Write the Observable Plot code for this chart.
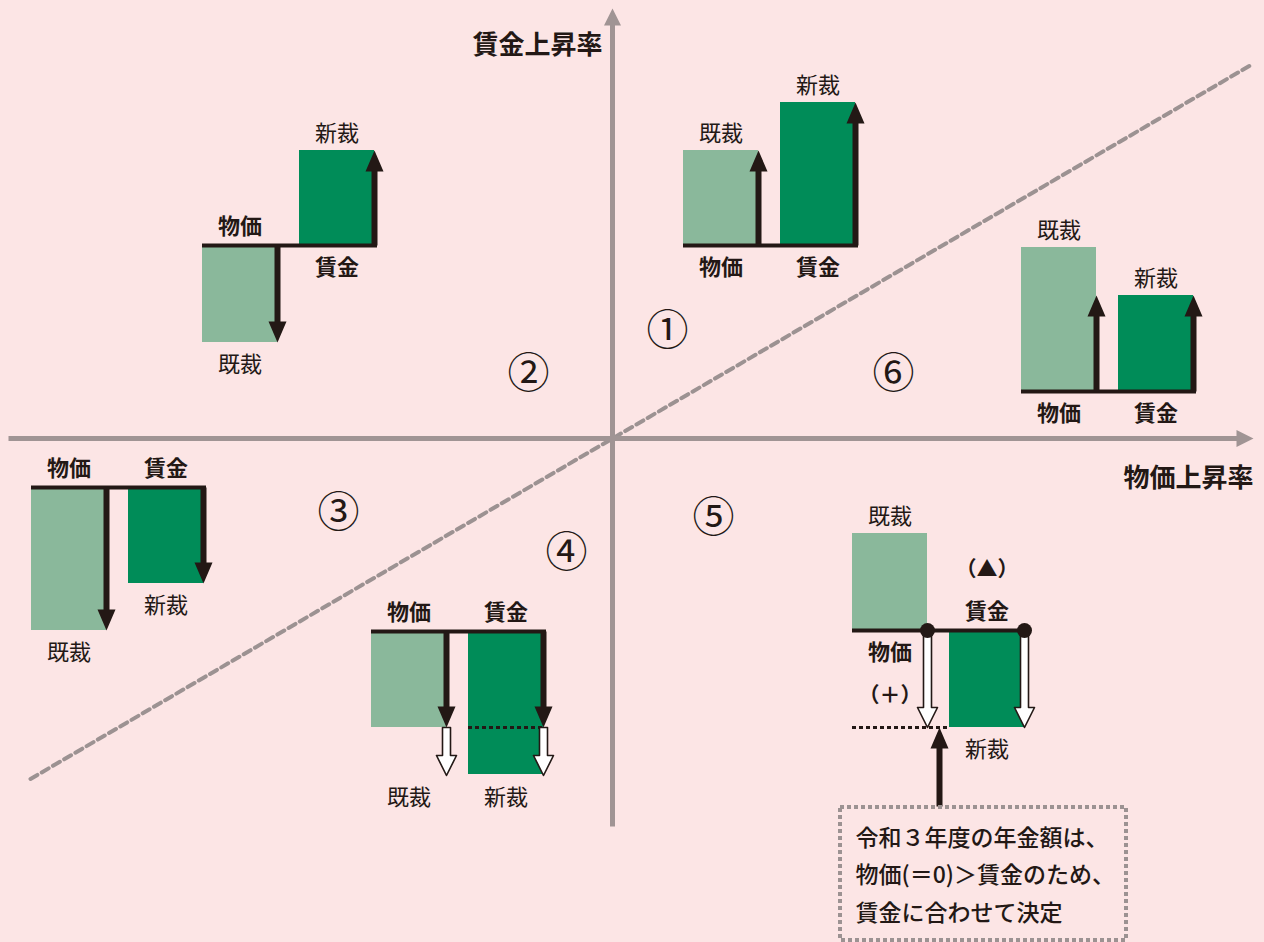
<!DOCTYPE html>
<html><head><meta charset="utf-8">
<script src="https://cdn.jsdelivr.net/npm/d3@7"></script>
<script src="https://cdn.jsdelivr.net/npm/@observablehq/plot@0.6"></script>
<style>
html,body{margin:0;padding:0;background:#fce5e5;}
#chart svg{display:block;}
</style></head><body><div id="chart"></div>
<script>
// ---- data (conceptual rates; baseline = 0 for each panel) ----
const panelIds = ["①","②","③","④","⑤","⑥"];
const priceBar  = [95, -97, -143, -96, 97, 144];   // 既裁 bar (物価)
const wageBar   = [143, 95, -96, -143, -97, 96];   // 新裁 bar (賃金)
const priceArrow = [95, -97, -143, -96, 0, 96];    // solid revision arrow on 既裁
const wageArrow  = [143, 95, -96, -96, 0, 96];     // solid revision arrow on 新裁
const hollowFrom = [null, null, null, -96, 0, null];
const hollowTo   = [null, null, null, -144, -97, null];
const rateNames = ["物価", "賃金"];
const revisionNames = ["既裁", "新裁"];
const axisTitles = ["物価上昇率", "賃金上昇率"];
const signNotes = ["（＋）", "（▲）"];
const noteLines = ["令和３年度の年金額は、", "物価(＝0)＞賃金のため、", "賃金に合わせて決定"];

// ---- layout (diagram placement) ----
const panelLeft = [71, -410, -581, -241, 240, 409];
const panelBase = [193, 193, -49, -193, -192, 47];
const idX = [55, -84, -274, -46, 101, 281];
const idY = [107, 64, -75, -115, -80, 64];
const guideLevel = [null, null, null, -96, -97, null];
const guideSide = [null, null, null, "wage", "price", null];
const diagonalX = [-582, 640];
const diagonalSlope = 0.585;

const C = {bg:"#fce5e5", light:"#8ab89b", dark:"#008c58", ink:"#231815", axis:"#a09494", dash:"#9c9292"};
const FONT = "'Noto Sans CJK JP', 'Noto Sans', sans-serif";
const BW = 75, GAP = 97, AX2 = 172;

function arrowShape(shaftW, headW, headL) {
  return {draw(ctx, l) {
    const s = shaftW / 2, h = headW / 2, b = -l + headL;
    ctx.moveTo(-s, 0); ctx.lineTo(-s, b); ctx.lineTo(-h, b); ctx.lineTo(0, -l);
    ctx.lineTo(h, b); ctx.lineTo(s, b); ctx.lineTo(s, 0); ctx.closePath();
  }};
}

const bars = [], baselines = [], solid = [], hollow = [], dots = [], guides = [], labels = [], notes = [];
panelIds.forEach((id, i) => {
  const L = panelLeft[i], B = panelBase[i];
  bars.push({x1: L, x2: L + BW, y1: B, y2: B + priceBar[i], fill: C.light});
  bars.push({x1: L + GAP, x2: L + GAP + BW, y1: B, y2: B + wageBar[i], fill: C.dark});
  baselines.push({y: B, x1: L, x2: L + AX2 + 3});
  [[L + BW, priceArrow[i]], [L + AX2, wageArrow[i]]].forEach(([x, v]) => {
    if (v) solid.push({x, y: B, len: Math.abs(v), rot: v > 0 ? 0 : 180});
  });
  if (hollowFrom[i] != null) {
    const v = hollowTo[i] - hollowFrom[i];
    [L + BW, L + AX2].forEach(x => hollow.push({x, y: B + hollowFrom[i], len: Math.abs(v), rot: v > 0 ? 0 : 180}));
    if (hollowFrom[i] === 0) [L + BW, L + AX2].forEach(x => dots.push({x, y: B}));
  }
  if (guideLevel[i] != null) {
    const [a, b] = guideSide[i] === "wage" ? [L + GAP, L + GAP + BW] : [L, L + GAP];
    guides.push({y: B + guideLevel[i], x1: a, x2: b});
  }
  const vals = [priceBar[i], wageBar[i]];
  const cx = [L + BW / 2, L + GAP + BW / 2];
  vals.forEach((v, k) => {
    const ry = v > 0 ? B - 22 : B + 19;
    labels.push({text: rateNames[k], x: cx[k], y: ry, bold: true});
    let ext = v;
    if (hollowTo[i] != null && Math.sign(hollowTo[i]) === Math.sign(v) && Math.abs(hollowTo[i]) > Math.abs(v)) ext = hollowTo[i];
    labels.push({text: revisionNames[k], x: cx[k], y: ext > 0 ? B + ext + 17 : B + ext - 22, bold: false});
    if (hollowFrom[i] === 0) notes.push({text: signNotes[k], x: cx[k], y: v > 0 ? ry - 43 : ry + 42});
  });
});

const panelsIdx = panelIds.map((d, i) => i);
const diag = diagonalX.map(x => ({x, y: x * diagonalSlope}));

const plot = Plot.plot({
  width: 1264, height: 942, margin: 0,
  x: {domain: [-612, 652], axis: null},
  y: {domain: [-504, 438], axis: null},
  length: {domain: [0, 2000], range: [0, 2000]},
  style: {background: C.bg, fontFamily: FONT},
  marks: [
    Plot.line(diag, {x: "x", y: "y", stroke: C.dash, strokeWidth: 4, strokeDasharray: "8,5"}),
    Plot.vector([{x: 0, y: -388, len: 818, rot: 0}, {x: -604, y: 0, len: 1245, rot: 90}],
      {x: "x", y: "y", length: "len", rotate: "rot", anchor: "start", shape: arrowShape(5, 17, 17), fill: C.axis, stroke: "none"}),
    Plot.rect(bars, {x1: "x1", x2: "x2", y1: "y1", y2: "y2", fill: "fill"}),
    Plot.ruleY(guides, {y: "y", x1: "x1", x2: "x2", stroke: C.ink, strokeWidth: 3, strokeDasharray: "4,3"}),
    Plot.ruleY(baselines, {y: "y", x1: "x1", x2: "x2", stroke: C.ink, strokeWidth: 4}),
    Plot.vector(solid, {x: "x", y: "y", length: "len", rotate: "rot", anchor: "start", shape: arrowShape(6, 18, 21), fill: C.ink, stroke: "none"}),
    Plot.vector(hollow, {x: "x", y: "y", length: "len", rotate: "rot", anchor: "start", shape: arrowShape(8, 20, 20), fill: "#ffffff", stroke: C.ink, strokeWidth: 1.6}),
    Plot.dot(dots, {x: "x", y: "y", r: 7.5, fill: C.ink}),
    Plot.vector([{x: 327, y: -368, len: 79, rot: 0}], {x: "x", y: "y", length: "len", rotate: "rot", anchor: "start", shape: arrowShape(6, 18, 21), fill: C.ink, stroke: "none"}),
    Plot.rect([{x1: 228, x2: 514, y1: -369, y2: -502}], {x1: "x1", x2: "x2", y1: "y1", y2: "y2", fill: "none", stroke: C.dash, strokeWidth: 4, strokeDasharray: "4,3"}),
    Plot.text(labels.filter(d => d.bold), {x: "x", y: "y", text: "text", fontSize: 22, fontWeight: "bold", fill: C.ink}),
    Plot.text(labels.filter(d => !d.bold), {x: "x", y: "y", text: "text", fontSize: 22, fill: C.ink}),
    Plot.text(notes, {x: "x", y: "y", text: "text", fontSize: 21, fontWeight: "bold", fill: C.ink}),
    Plot.text(panelsIdx, {x: i => idX[i], y: i => idY[i], text: i => panelIds[i], fontSize: 42, fill: C.ink}),
    Plot.text([0, 1], {x: i => [576, -75][i], y: i => [-40, 393][i], text: i => axisTitles[i], fontSize: 26, fontWeight: "bold", fill: C.ink}),
    Plot.text(noteLines.map((t, i) => ({t, i})), {x: 243, y: d => -400 - d.i * 37.5, text: "t", fontSize: 23, textAnchor: "start", fill: C.ink, fontWeight: 500})
  ]
});
document.getElementById("chart").appendChild(plot);
</script></body></html>
